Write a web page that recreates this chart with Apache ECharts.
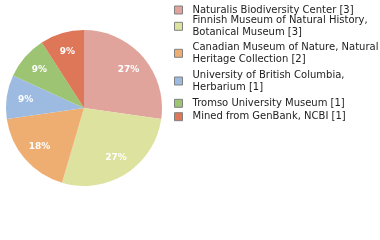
<!DOCTYPE html>
<html><head><meta charset="utf-8">
<script src="https://cdn.jsdelivr.net/npm/echarts@6/dist/echarts.min.js"></script>
<style>html,body{margin:0;padding:0;background:#fff}#c{width:380px;height:240px}</style>
</head><body><div id="c"></div>
<script>
var categories = [
  "Naturalis Biodiversity Center [3]",
  "Finnish Museum of Natural History,\nBotanical Museum [3]",
  "Canadian Museum of Nature, Natural\nHeritage Collection [2]",
  "University of British Columbia,\nHerbarium [1]",
  "Tromso University Museum [1]",
  "Mined from GenBank, NCBI [1]"
];
var values = [3, 3, 2, 1, 1, 1];
var colors = ["#e0a49c", "#dde29e", "#eeae72", "#9dbbe1", "#9cc472", "#dd7758"];

var total = values.reduce(function(a, b){ return a + b; }, 0);
var data = categories.map(function(n, i){ return {name: n, value: values[i]}; });
var legendTops = [4, 14.3, 41.3, 69, 97.3, 110.7];
var legends = categories.map(function(n, i){
  return {
    data: [n], left: 174, top: legendTops[i], orient: 'vertical',
    icon: 'rect', itemWidth: 8, itemHeight: 8, itemGap: 0, padding: 0,
    selectedMode: false,
    itemStyle: {borderColor: '#808080', borderWidth: 1},
    textStyle: {fontFamily: 'DejaVu Sans', fontSize: 10, lineHeight: 12, color: '#222', padding: [0,0,0,5]}
  };
});
var chart = echarts.init(document.getElementById('c'), null, {renderer: 'canvas'});
chart.setOption({
  animation: false,
  color: colors,
  legend: legends,
  series: [
    {
      type: 'pie', center: [84, 108], radius: 78, startAngle: 90, clockwise: true,
      data: data, label: {show: false}, labelLine: {show: false},
      emphasis: {disabled: true}, silent: true
    },
    {
      type: 'pie', center: [84, 108], radius: 112, startAngle: 90, clockwise: true,
      data: data, itemStyle: {color: 'rgba(0,0,0,0)'},
      labelLine: {show: false}, emphasis: {disabled: true}, silent: true,
      label: {
        show: true, position: 'inside', color: '#fff',
        fontFamily: 'DejaVu Sans', fontWeight: 'bold', fontSize: 9,
        formatter: function(p){ return Math.round(p.value / total * 100) + '%'; }
      }
    }
  ]
});
</script></body></html>
